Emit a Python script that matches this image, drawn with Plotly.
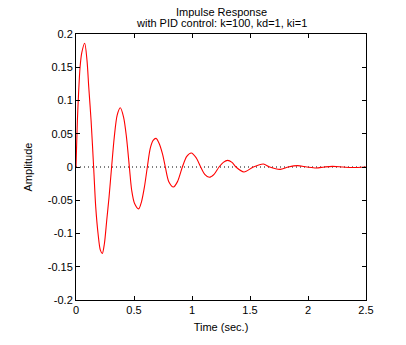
import plotly.graph_objects as go

t = [0, 0.005, 0.012, 0.022, 0.035, 0.05, 0.075, 0.095, 0.11, 0.13, 0.152, 0.17, 0.19, 0.21, 0.227,
     0.245, 0.265, 0.285, 0.307, 0.33, 0.355, 0.382, 0.41, 0.435, 0.46, 0.48, 0.505, 0.54, 0.565,
     0.59, 0.615, 0.64, 0.665, 0.69, 0.715, 0.745, 0.77, 0.8, 0.84, 0.875, 0.917, 0.955, 0.994,
     1.035, 1.075, 1.11, 1.149, 1.19, 1.233, 1.27, 1.307, 1.345, 1.379, 1.448, 1.529, 1.615, 1.67,
     1.76, 1.83, 1.91, 1.99, 2.07, 2.14, 2.21, 2.30, 2.38, 2.5]
amplitude = [0, 0.03, 0.07, 0.11, 0.15, 0.172, 0.186, 0.16, 0.12, 0.07, 0.0, -0.06, -0.1, -0.125, -0.13,
             -0.115, -0.08, -0.045, 0, 0.045, 0.078, 0.089, 0.075, 0.045, 0.0, -0.035, -0.055, -0.063, -0.052,
             -0.03, 0, 0.028, 0.04, 0.043, 0.036, 0.02, 0, -0.022, -0.03, -0.022, 0, 0.016, 0.021,
             0.014, 0, -0.011, -0.0155, -0.011, 0, 0.007, 0.010, 0.007, 0, -0.0075, 0, 0.0045, 0,
             -0.0035, 0, 0.002, 0, -0.0015, 0, 0.001, 0, -0.0008, 0]

zero_t = [0, 2.5]
zero_v = [0, 0]

x_ticks = [0, 0.5, 1, 1.5, 2, 2.5]
x_labels = ["0", "0.5", "1", "1.5", "2", "2.5"]
y_ticks = [-0.2, -0.15, -0.1, -0.05, 0, 0.05, 0.1, 0.15, 0.2]
y_labels = ["-0.2", "-0.15", "-0.1", "-0.05", "0", "0.05", "0.1", "0.15", "0.2"]

title_lines = ["Impulse Response", "with PID control: k=100, kd=1, ki=1"]

font = "Liberation Sans, Arial, Helvetica, sans-serif"

fig = go.Figure()
fig.add_trace(go.Scatter(x=zero_t, y=zero_v, mode="lines",
                         line=dict(color="black", width=1, dash="1px,3px"), hoverinfo="skip"))
fig.add_trace(go.Scatter(x=t, y=amplitude, mode="lines",
                         line=dict(color="red", width=1.1, shape="spline", smoothing=0.8)))

axis_common = dict(showline=True, linecolor="black", linewidth=1, mirror="ticks",
                   ticks="inside", ticklen=4, tickcolor="black", showgrid=False,
                   zeroline=False, tickfont=dict(family=font, size=11, color="black"))

fig.update_layout(
    width=406, height=345,
    margin=dict(l=76, r=40, t=34, b=45),
    paper_bgcolor="white", plot_bgcolor="white",
    showlegend=False,
    font=dict(family=font, size=11, color="black"),
    xaxis=dict(range=[0, 2.5], tickvals=x_ticks, ticktext=x_labels,
               title=dict(text="Time (sec.)", standoff=8, font=dict(family=font, size=11)),
               **axis_common),
    yaxis=dict(range=[-0.2, 0.2], tickvals=y_ticks, ticktext=y_labels,
               title=dict(text="Amplitude", standoff=12, font=dict(family=font, size=11)),
               **axis_common),
)
for i, line in enumerate(title_lines):
    fig.add_annotation(text=line, xref="paper", yref="paper", x=0.5, y=1.083 - i * 0.043,
                       xanchor="center", yanchor="middle", showarrow=False,
                       font=dict(family=font, size=11, color="black"))

fig.write_html("out.html")
